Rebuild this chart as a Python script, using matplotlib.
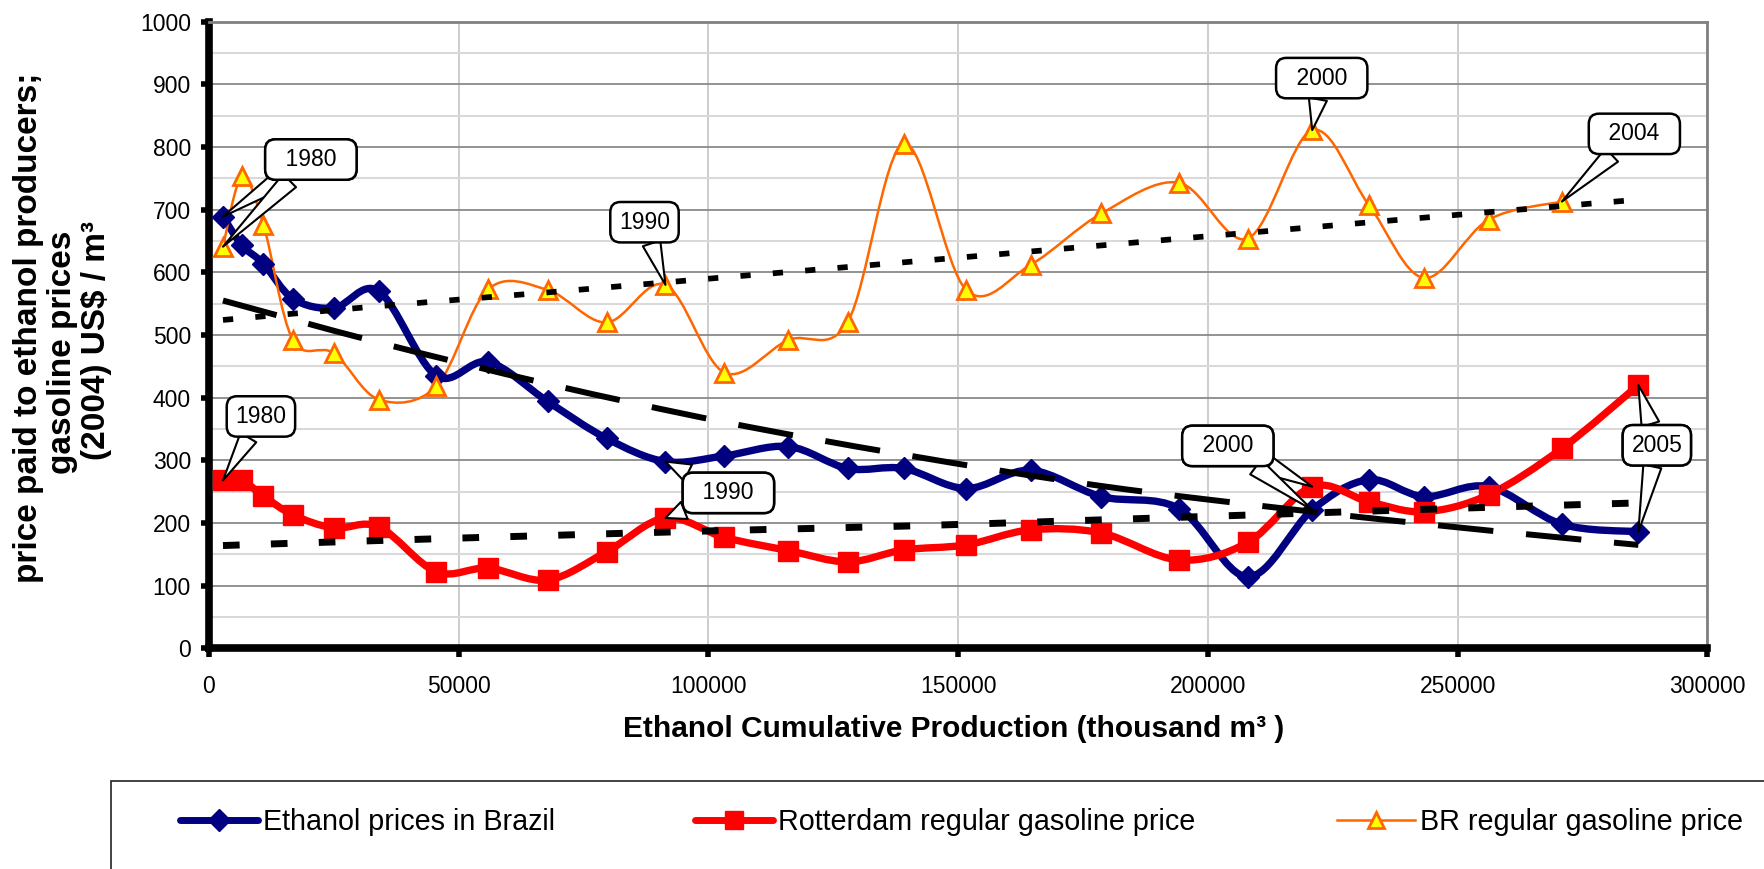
import numpy as np
import matplotlib
matplotlib.use("Agg")
import matplotlib.pyplot as plt
from matplotlib.path import Path
from matplotlib.patches import PathPatch, Rectangle
from matplotlib.lines import Line2D

plt.rcParams['font.family'] = ['Liberation Sans', 'DejaVu Sans']

# ---------------- data ----------------
years = list(range(1980, 2006))
# cumulative ethanol production, thousand m3 (x positions of the yearly points)
production = [2800, 6600, 10900, 16800, 25000, 34000, 45500, 55900, 67800, 79600,
              91400, 103200, 116000, 127900, 139100, 151600, 164500, 178700, 194200, 208000,
              220900, 232200, 243300, 256200, 270900, 286200]
ethanol = [689, 643, 614, 558, 543, 570, 435, 457, 394, 335,
           298, 307, 322, 287, 287, 255, 284, 242, 223, 114,
           221, 269, 242, 258, 198, 186]
rotterdam = [268, 268, 243, 213, 192, 194, 122, 128, 109, 154,
             208, 177, 156, 138, 157, 165, 189, 184, 141, 169,
             258, 234, 218, 245, 319, 420]
br_gasoline = [641, 753, 676, 492, 471, 397, 418, 573, 572, 520,
               580, 440, 492, 521, 805, 572, 612, 694, 743, 654,
               827, 708, 591, 684, 713]

# trend lines (dashed black), read at a few production values
trend_x = [2800, 34000, 67800, 103200, 139100, 178700, 220900, 256200, 286200]
ethanol_trend = [555, 488, 422, 361, 309, 259, 218, 188, 165]
br_trend = [524, 546, 568, 592, 616, 643, 672, 696, 716]
rotterdam_trend = [164, 172, 180, 188, 195, 205, 216, 225, 232]

xticks = [0, 50000, 100000, 150000, 200000, 250000, 300000]
yticks = [0, 100, 200, 300, 400, 500, 600, 700, 800, 900, 1000]
yminor = [50, 150, 250, 350, 450, 550, 650, 750, 850, 950]

series_names = ["Ethanol prices in Brazil", "Rotterdam regular gasoline price",
                "BR regular gasoline price"]

# callouts: (text, targets (series, year index), label centre in data units)
callouts = [
    ("\u20021980\u2002", [("eth", 0), ("br", 0)], (20400, 780)),
    ("1990", [("br", 10)], (87200, 680)),
    ("1980", [("rot", 0)], (10400, 370)),
    ("\u20021990\u2002", [("eth", 10), ("rot", 10)], (104000, 248)),
    ("\u20022000\u2002", [("br", 20)], (222800, 910)),
    ("\u20022004\u2002", [("br", 24)], (285400, 821)),
    ("\u20022000\u2002", [("rot", 20), ("eth", 20)], (204000, 323)),
    ("2005", [("rot", 25), ("eth", 25)], (289900, 324)),
]

ylabel_lines = ["price paid to ethanol producers;", "gasoline prices",
                "(2004) US$ / m\u00b3"]

NAVY = "#000080"
RED = "#FF0000"
ORANGE = "#FF6600"
YELLOW = "#FFFF00"

# ---------------- figure ----------------
fig = plt.figure(figsize=(17.65, 8.69), dpi=100)
ax = fig.add_axes([0.11841, 0.25397, 0.84889, 0.72106])


def smooth_path(xs, ys):
    n = len(xs)
    verts = [(xs[0], ys[0])]
    codes = [Path.MOVETO]
    for i in range(n - 1):
        i0 = max(i - 1, 0)
        i3 = min(i + 2, n - 1)
        c1 = (xs[i] + (xs[i + 1] - xs[i0]) / 6.0, ys[i] + (ys[i + 1] - ys[i0]) / 6.0)
        c2 = (xs[i + 1] - (xs[i3] - xs[i]) / 6.0, ys[i + 1] - (ys[i3] - ys[i]) / 6.0)
        verts += [c1, c2, (xs[i + 1], ys[i + 1])]
        codes += [Path.CURVE4] * 3
    return Path(verts, codes)


def draw_curve(xs, ys, **kw):
    p = PathPatch(smooth_path(xs, ys), fill=False, **kw)
    ax.add_patch(p)
    return p


# series lines (Excel smoothed lines)
draw_curve(production, ethanol, edgecolor=NAVY, linewidth=5.3, capstyle='round',
           joinstyle='round', zorder=3)
draw_curve(production, rotterdam, edgecolor=RED, linewidth=5.3, capstyle='round',
           joinstyle='round', zorder=3.1)
draw_curve(production[:len(br_gasoline)], br_gasoline, edgecolor=ORANGE, linewidth=1.8,
           capstyle='round', joinstyle='round', zorder=3.2)

ax.plot(production, ethanol, ls='none', marker='D', ms=11.5, mfc=NAVY, mec=NAVY,
        mew=1.0, zorder=4, clip_on=False)
ax.plot(production, rotterdam, ls='none', marker='s', ms=14.5, mfc=RED, mec=RED,
        mew=1.0, zorder=4.1, clip_on=False)
ax.plot(production[:len(br_gasoline)], br_gasoline, ls='none', marker='^', ms=12.5,
        mfc=YELLOW, mec=ORANGE, mew=2.0, zorder=4.2, clip_on=False)

# trend lines
draw_curve(trend_x, ethanol_trend, edgecolor='black', linewidth=4.3,
           linestyle=(0, (9.3, 5.5)), zorder=5)
draw_curve(trend_x, br_trend, edgecolor='black', linewidth=4.1,
           linestyle=(0, (1.8, 3.9)), zorder=5)
draw_curve(trend_x, rotterdam_trend, edgecolor='black', linewidth=5.0,
           linestyle=(0, (2.4, 4.5)), zorder=5)

# axes styling
ax.set_xlim(0, 300000)
ax.set_ylim(0, 1000)
ax.set_xticks(xticks)
ax.set_xticklabels([str(t) for t in xticks])
ax.set_yticks(yticks)
ax.set_yticklabels([str(t) for t in yticks])
ax.set_yticks(yminor, minor=True)

ax.yaxis.grid(True, which='major', color='#8a8a8a', linewidth=1.3, zorder=0)
ax.yaxis.grid(True, which='minor', color='#d9d9d9', linewidth=1.5, zorder=0)
ax.xaxis.grid(True, which='major', color='#c0c0c0', linewidth=1.1, zorder=0)
ax.set_axisbelow(True)

for s in ['left', 'bottom']:
    ax.spines[s].set_color('black')
    ax.spines[s].set_linewidth(5.5)
    ax.spines[s].set_zorder(2.5)
for s in ['top', 'right']:
    ax.spines[s].set_color('#808080')
    ax.spines[s].set_linewidth(2.0)

ax.tick_params(axis='x', which='major', length=6.5, width=4.0, color='black',
               labelsize=16.5, pad=13, direction='out')
ax.tick_params(axis='y', which='major', length=5.5, width=4.0, color='black',
               labelsize=16.5, pad=7.5, direction='out')
ax.tick_params(axis='y', which='minor', length=0)

# callouts
values = {"eth": ethanol, "rot": rotterdam, "br": br_gasoline}
for text, targets, pos in callouts:
    for key, idx in targets:
        ax.annotate(text, xy=(production[idx], values[key][idx]), xytext=pos,
                    textcoords='data', ha='center', va='center', fontsize=16.5,
                    bbox=dict(boxstyle='round,pad=0.38,rounding_size=0.45',
                              fc='white', ec='black', lw=1.8),
                    arrowprops=dict(arrowstyle='wedge,tail_width=0.8,shrink_factor=0.5',
                                    fc='white', ec='black', lw=1.5,
                                    shrinkA=0, shrinkB=0),
                    zorder=10, annotation_clip=False)

# axis titles
fig.text(954 / 1765, 1 - 737 / 869, "Ethanol Cumulative Production (thousand m\u00b3 )",
         ha='center', va='baseline', fontsize=21.5, fontweight='bold')
ylabel_pos = [(29, 328), (63, 352), (97, 340)]
for line, (px, py) in zip(ylabel_lines, ylabel_pos):
    fig.text(px / 1765, 1 - py / 869, line, ha='center', va='center', rotation=90,
             fontsize=24, fontweight='bold')

# legend box (extends beyond figure edges like the reference)
fig.patches.append(Rectangle((111.5 / 1765, -0.2), 2.0, 0.2 + (1 - 780.7 / 869),
                             transform=fig.transFigure, fill=False,
                             edgecolor='#222222', linewidth=1.2, clip_on=False))

handles = [
    Line2D([], [], color=NAVY, lw=5, marker='D', ms=11, mfc=NAVY, mec=NAVY,
           solid_capstyle='round'),
    Line2D([], [], color=RED, lw=5, marker='s', ms=13, mfc=RED, mec=RED,
           solid_capstyle='round'),
    Line2D([], [], color=ORANGE, lw=1.8, marker='^', ms=12, mfc=YELLOW, mec=ORANGE,
           mew=2.0),
]
leg_x = [179.6 / 1765, 694.7 / 1765, 1337 / 1765]
for h, name, lx in zip(handles, series_names, leg_x):
    fig.legend([h], [name], loc='center left', bbox_to_anchor=(lx, 1 - 821.7 / 869),
               frameon=False, borderpad=0, borderaxespad=0, fontsize=20.7,
               handlelength=2.71, handletextpad=0.19, numpoints=1)

fig.savefig("out.png", dpi=100)
